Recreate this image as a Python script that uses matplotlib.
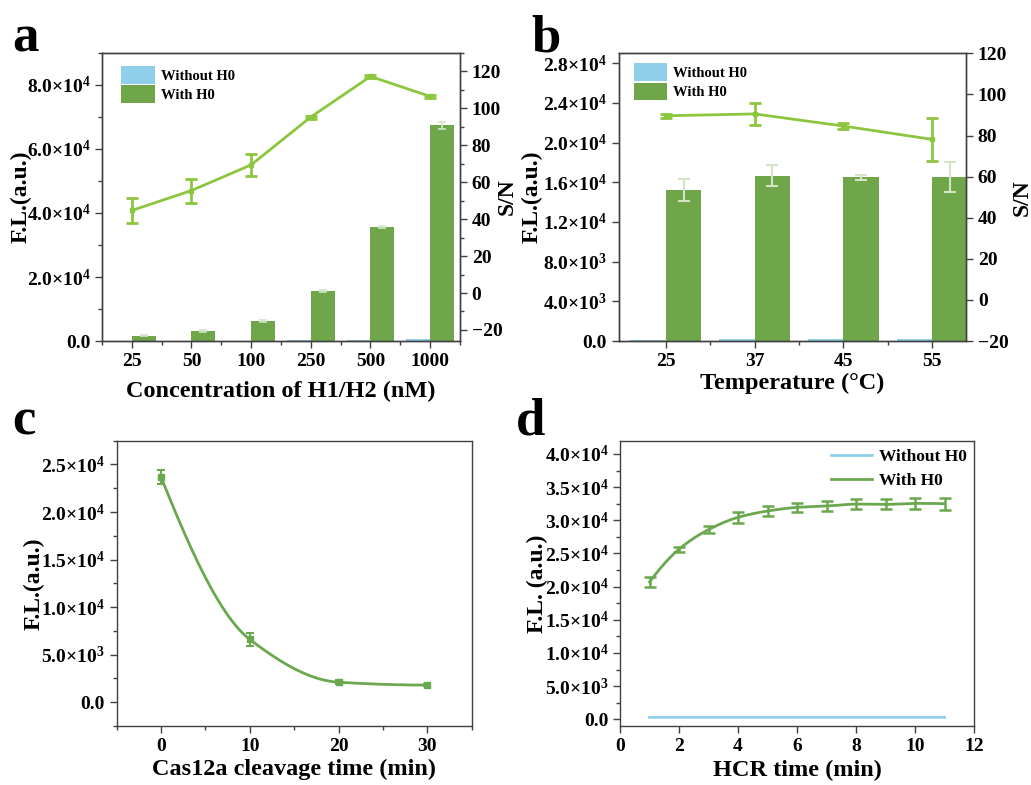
import numpy as np
import matplotlib
matplotlib.use('Agg')
import matplotlib.pyplot as plt
from matplotlib.ticker import FuncFormatter, MultipleLocator

plt.rcParams['font.family'] = ['Liberation Serif', 'DejaVu Serif']
plt.rcParams['font.weight'] = 'bold'
plt.rcParams['axes.labelweight'] = 'bold'
plt.rcParams['mathtext.fontset'] = 'custom'
plt.rcParams['mathtext.rm'] = 'Liberation Serif:bold'
plt.rcParams['mathtext.it'] = 'Liberation Serif:italic:bold'
plt.rcParams['mathtext.bf'] = 'Liberation Serif:bold'

# colours
BLUE = '#8fcfea'
GREEN = '#6fa64a'
LIME = '#8cc63f'
ERR_LIGHT = '#d3e5c6'
LINE_GREEN = '#6aa84f'
SPINE = '#404040'

# ---- panel a: concentration of H1/H2 ----
conc_labels = ['25', '50', '100', '250', '500', '1000']
a_without = [100, 120, 150, 180, 300, 600]
a_with = [1700, 3100, 6250, 15600, 35600, 67400]
a_with_err = [250, 250, 300, 300, 400, 1100]
a_sn = [44.7, 55.5, 69.4, 95.3, 117.3, 106.5]
a_sn_err = [7.0, 6.5, 6.0, 0.8, 0.8, 0.8]

# ---- panel b: temperature ----
temp_labels = ['25', '37', '45', '55']
b_without = [150, 180, 200, 200]
b_with = [15200, 16650, 16500, 16500]
b_with_err = [1100, 1050, 250, 1500]
b_sn = [89.6, 90.5, 84.6, 78.1]
b_sn_err = [1.0, 5.2, 1.3, 10.5]

# ---- panel c: Cas12a cleavage time ----
c_time = [0, 10, 20, 30]
c_fl = [23670, 6600, 2100, 1800]
c_err = [700, 700, 200, 120]

# ---- panel d: HCR time ----
d_time = [1, 2, 3, 4, 5, 6, 7, 8, 9, 10, 11]
d_with = [20700, 25650, 28600, 30450, 31400, 31950, 32150, 32450, 32400, 32550, 32500]
d_with_err = [800, 400, 500, 800, 800, 700, 750, 800, 750, 850, 900]
d_without = [300, 300, 290, 310, 300, 300, 290, 310, 300, 300, 300]


def sci_fmt(v, pos):
    if abs(v) < 1e-9:
        return '0.0'
    e = int(np.floor(np.log10(abs(v)) + 1e-9))
    m = v / 10 ** e
    return f'{m:.1f}×10$^{{{e}}}$'


def pchip(x, y, xs):
    """monotone cubic connection (like Origin's spline line)"""
    x = np.asarray(x, float)
    y = np.asarray(y, float)
    h = np.diff(x)
    d = np.diff(y) / h
    m = np.zeros_like(y)
    for k in range(1, len(x) - 1):
        if d[k - 1] * d[k] > 0:
            w1 = 2 * h[k] + h[k - 1]
            w2 = h[k] + 2 * h[k - 1]
            m[k] = (w1 + w2) / (w1 / d[k - 1] + w2 / d[k])

    def end(h0, h1, d0, d1):
        mm = ((2 * h0 + h1) * d0 - h0 * d1) / (h0 + h1)
        if np.sign(mm) != np.sign(d0):
            mm = 0.0
        elif np.sign(d0) != np.sign(d1) and abs(mm) > abs(3 * d0):
            mm = 3 * d0
        return mm

    m[0] = end(h[0], h[1], d[0], d[1])
    m[-1] = end(h[-1], h[-2], d[-1], d[-2])
    idx = np.clip(np.searchsorted(x, xs) - 1, 0, len(h) - 1)
    t = (xs - x[idx]) / h[idx]
    h00 = 2 * t ** 3 - 3 * t ** 2 + 1
    h10 = t ** 3 - 2 * t ** 2 + t
    h01 = -2 * t ** 3 + 3 * t ** 2
    h11 = t ** 3 - t ** 2
    return h00 * y[idx] + h10 * h[idx] * m[idx] + h01 * y[idx + 1] + h11 * h[idx] * m[idx + 1]


def style_axes(ax, right=False):
    for s in ax.spines.values():
        s.set_color(SPINE)
        s.set_linewidth(1.0)
    ax.tick_params(axis='both', which='major', direction='out', length=5,
                   width=1, color=SPINE, labelsize=14)
    ax.tick_params(axis='both', which='minor', direction='out', length=3,
                   width=1, color=SPINE)
    if not right:
        ax.tick_params(top=False, right=False, which='both')


fig = plt.figure(figsize=(10.31, 7.85), dpi=100)

bar_legend = dict(frameon=False, prop=dict(weight='bold', size=10.5),
                  handlelength=2.3, handleheight=1.5, labelspacing=0.1,
                  handletextpad=0.4, borderaxespad=0.0)

# ================= a =================
ax_a = fig.add_axes([0.0989, 0.5656, 0.3472, 0.3669])
xa = np.arange(len(conc_labels))
ax_a.bar(xa - 0.2, a_without, 0.4, color=BLUE, label='Without H0')
ax_a.bar(xa + 0.2, a_with, 0.4, yerr=a_with_err, color=GREEN, label='With H0',
         error_kw=dict(ecolor=ERR_LIGHT, capsize=3, elinewidth=1.2, capthick=1.2))
ax_a.set_xlim(-0.5, 5.5)
ax_a.set_ylim(0, 9e4)
ax_a.set_xticks(xa)
ax_a.set_xticklabels(conc_labels)
ax_a.xaxis.set_minor_locator(MultipleLocator(0.5))
ax_a.yaxis.set_major_locator(MultipleLocator(2e4))
ax_a.yaxis.set_minor_locator(MultipleLocator(1e4))
ax_a.yaxis.set_major_formatter(FuncFormatter(sci_fmt))
style_axes(ax_a)
ax_a.set_xlabel('Concentration of H1/H2 (nM)', fontsize=17.5, labelpad=8)
ax_a.set_ylabel('F.L.(a.u.)', fontsize=17)
ax_a.yaxis.set_label_coords(-0.196, 0.5)
ax_a.legend(loc='upper left', bbox_to_anchor=(0.038, 0.975), **bar_legend)

tw_a = ax_a.twinx()
tw_a.errorbar(xa, a_sn, yerr=a_sn_err, color=LIME, lw=2, marker='s', ms=3,
              capsize=4, capthick=2, elinewidth=2)
tw_a.set_ylim(-26, 130)
tw_a.yaxis.set_major_locator(MultipleLocator(20))
tw_a.yaxis.set_minor_locator(MultipleLocator(10))
style_axes(tw_a, right=True)
tw_a.set_ylabel('S/N', fontsize=17)
tw_a.yaxis.set_label_coords(1.103, 0.5)

# ================= b =================
ax_b = fig.add_axes([0.6001, 0.5656, 0.3369, 0.3665])
xb = np.arange(len(temp_labels))
ax_b.bar(xb - 0.2, b_without, 0.4, color=BLUE, label='Without H0')
ax_b.bar(xb + 0.2, b_with, 0.4, yerr=b_with_err, color=GREEN, label='With H0',
         error_kw=dict(ecolor=ERR_LIGHT, capsize=4, elinewidth=1.5, capthick=1.5))
ax_b.set_xlim(-0.53, 3.38)
ax_b.set_ylim(0, 2.9e4)
ax_b.set_xticks(xb)
ax_b.set_xticklabels(temp_labels)
ax_b.set_xticks(xb[:-1] + 0.5, minor=True)
ax_b.yaxis.set_major_locator(MultipleLocator(4e3))
ax_b.yaxis.set_major_formatter(FuncFormatter(sci_fmt))
style_axes(ax_b)
ax_b.set_xlabel('Temperature (°C)', fontsize=17.5, labelpad=2)
ax_b.set_ylabel('F.L.(a.u.)', fontsize=17)
ax_b.yaxis.set_label_coords(-0.218, 0.5)
ax_b.legend(loc='upper left', bbox_to_anchor=(0.026, 0.985), **bar_legend)

tw_b = ax_b.twinx()
tw_b.errorbar(xb, b_sn, yerr=b_sn_err, color=LIME, lw=2, marker='s', ms=3,
              capsize=4, capthick=2, elinewidth=2)
tw_b.set_ylim(-20, 120)
tw_b.yaxis.set_major_locator(MultipleLocator(20))
style_axes(tw_b, right=True)
tw_b.set_ylabel('S/N', fontsize=17)
tw_b.yaxis.set_label_coords(1.132, 0.5)

# ================= c =================
ax_c = fig.add_axes([0.1132, 0.0752, 0.3443, 0.3634])
xs_c = np.linspace(c_time[0], c_time[-1], 300)
ax_c.plot(xs_c, pchip(c_time, c_fl, xs_c), color=LINE_GREEN, lw=2)
ax_c.errorbar(c_time, c_fl, yerr=c_err, fmt='s', color=LINE_GREEN, ms=5,
              capsize=3, capthick=1.5, elinewidth=1.5)
ax_c.set_xlim(-5, 35)
ax_c.set_ylim(-2500, 27500)
ax_c.xaxis.set_major_locator(MultipleLocator(10))
ax_c.xaxis.set_minor_locator(MultipleLocator(5))
ax_c.yaxis.set_major_locator(MultipleLocator(5e3))
ax_c.yaxis.set_minor_locator(MultipleLocator(2.5e3))
ax_c.yaxis.set_major_formatter(FuncFormatter(sci_fmt))
style_axes(ax_c)
ax_c.set_xlabel('Cas12a cleavage time (min)', fontsize=17.5, labelpad=3)
ax_c.set_ylabel('F.L.(a.u.)', fontsize=17)
ax_c.yaxis.set_label_coords(-0.202, 0.5)

# ================= d =================
ax_d = fig.add_axes([0.6014, 0.0752, 0.3434, 0.3634])
xs_d = np.linspace(d_time[0], d_time[-1], 300)
ax_d.plot(xs_d, pchip(d_time, d_without, xs_d), color=BLUE, lw=2, label='Without H0')
ax_d.plot(xs_d, pchip(d_time, d_with, xs_d), color=LINE_GREEN, lw=2, label='With H0')
ax_d.errorbar(d_time, d_with, yerr=d_with_err, fmt='none', ecolor=LINE_GREEN,
              capsize=4, capthick=1.8, elinewidth=1.8)
ax_d.set_xlim(0, 12)
ax_d.set_ylim(-1000, 42000)
ax_d.xaxis.set_major_locator(MultipleLocator(2))
ax_d.yaxis.set_major_locator(MultipleLocator(5e3))
ax_d.yaxis.set_minor_locator(MultipleLocator(2.5e3))
ax_d.yaxis.set_major_formatter(FuncFormatter(sci_fmt))
style_axes(ax_d)
ax_d.set_xlabel('HCR time (min)', fontsize=17.5, labelpad=4)
ax_d.set_ylabel('F.L. (a.u.)', fontsize=17)
ax_d.yaxis.set_label_coords(-0.203, 0.5)
ax_d.legend(loc='upper right', bbox_to_anchor=(1.025, 1.025), frameon=False,
            prop=dict(weight='bold', size=12.5), handlelength=2.4,
            labelspacing=0.45, handletextpad=0.4)

# panel letters
for txt, x, y in [('a', 0.012, 0.935), ('b', 0.515, 0.935),
                  ('c', 0.012, 0.447), ('d', 0.500, 0.447)]:
    fig.text(x, y, txt, fontsize=38, fontweight='bold', ha='left', va='baseline')

fig.savefig('out.png', dpi=100)
